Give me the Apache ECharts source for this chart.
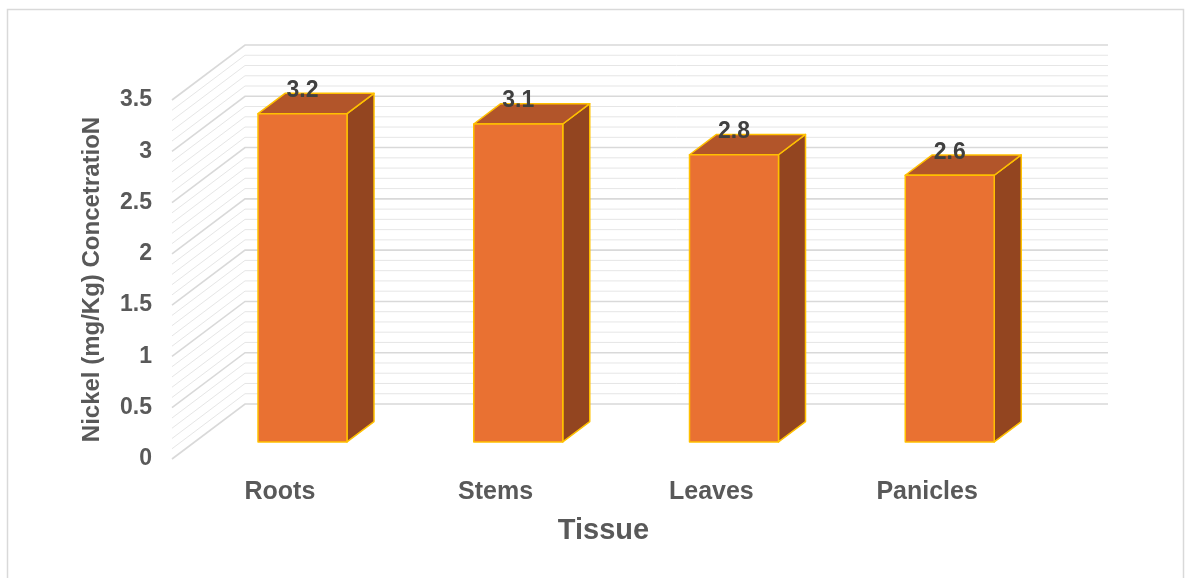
<!DOCTYPE html>
<html>
<head>
<meta charset="utf-8">
<title>Nickel concentration by tissue</title>
<script src="https://cdn.jsdelivr.net/npm/echarts@6/dist/echarts.min.js"></script>
<style>
  html, body { margin: 0; padding: 0; background: #ffffff; }
  #chart { width: 1189px; height: 578px; }
</style>
</head>
<body>
<div id="chart"></div>
<script>
// Tissue categories and measured nickel concentration (mg/Kg)
const tissues = ['Roots', 'Stems', 'Leaves', 'Panicles'];
const nickel = [3.2, 3.1, 2.8, 2.6];

// Value axis settings
const axisMin = 0;
const axisMax = 3.5;
const majorStep = 0.5;
const minorStep = 0.1;

// Wall gridline levels (major every 0.5, minor every 0.1)
const gridLevels = [];
for (let i = 0; i <= Math.round((axisMax - axisMin) / minorStep); i++) {
  gridLevels.push(+(axisMin + i * minorStep).toFixed(2));
}

// Oblique depth vector of the 3D box (pixels for the full floor depth)
const DEPTH = [73, -55];
const FRONT = 0.31;   // depth fraction where bar front faces sit
const THICK = 0.37;   // depth fraction occupied by each bar
const BAR_WIDTH = 0.4125; // share of a category band

const FONT = '"Liberation Sans", Arial, Helvetica, sans-serif';

const chart = echarts.init(document.getElementById('chart'), null, { renderer: 'canvas' });

function renderWall(params, api) {
  const v = api.value(1);
  const cs = params.coordSys;
  const y = api.coord([0, v])[1];
  const major = Math.abs(v / majorStep - Math.round(v / majorStep)) < 1e-6;
  const x0 = cs.x;
  const x1 = cs.x + cs.width;
  return {
    type: 'polyline',
    silent: true,
    z2: major ? 2 : 1,
    shape: {
      points: [
        [x0, y],
        [x0 + DEPTH[0], y + DEPTH[1]],
        [x1 + DEPTH[0], y + DEPTH[1]]
      ]
    },
    style: {
      stroke: major ? '#d9d9d9' : '#e6e6e6',
      lineWidth: major ? 1.6 : 1,
      fill: null
    }
  };
}

function renderBar(params, api) {
  const idx = api.value(0);
  const val = api.value(1);
  const base = api.coord([idx, 0]);
  const top = api.coord([idx, val]);
  const band = api.size([1, 0])[0];
  const w = band * BAR_WIDTH;
  const ox = DEPTH[0] * FRONT, oy = DEPTH[1] * FRONT;
  const bx = DEPTH[0] * THICK, by = DEPTH[1] * THICK;
  const l = base[0] - w / 2 + ox;
  const r = base[0] + w / 2 + ox;
  const yb = base[1] + oy;
  const yt = top[1] + oy;
  const edge = { stroke: '#FFC000', lineWidth: 1.5, lineJoin: 'round' };
  return {
    type: 'group',
    children: [
      {
        type: 'polygon',
        shape: { points: [[r, yt], [r, yb], [r + bx, yb + by], [r + bx, yt + by]] },
        style: Object.assign({ fill: '#934520' }, edge)
      },
      {
        type: 'polygon',
        shape: { points: [[l, yt], [r, yt], [r + bx, yt + by], [l + bx, yt + by]] },
        style: Object.assign({ fill: '#B2552A' }, edge)
      },
      {
        type: 'rect',
        shape: { x: l, y: yt, width: r - l, height: yb - yt },
        style: Object.assign({ fill: '#E97132' }, edge)
      },
      {
        type: 'text',
        z2: 10,
        style: {
          text: String(val),
          x: (l + r) / 2,
          y: yt - 23,
          align: 'center',
          verticalAlign: 'middle',
          font: 'bold 23px ' + FONT,
          fill: '#404040'
        }
      }
    ]
  };
}

const option = {
  animation: false,
  backgroundColor: '#ffffff',
  graphic: [
    {
      type: 'rect',
      silent: true,
      shape: { x: 7.5, y: 9.5, width: 1176, height: 590 },
      style: { fill: null, stroke: '#d9d9d9', lineWidth: 1.5 }
    }
  ],
  grid: { left: 172, right: 154, top: 100, bottom: 119, containLabel: false },
  xAxis: {
    type: 'category',
    data: tissues,
    axisLine: { show: false },
    axisTick: { show: false },
    splitLine: { show: false },
    axisLabel: {
      margin: 33,
      verticalAlign: 'middle',
      color: '#595959',
      fontFamily: FONT,
      fontWeight: 'bold',
      fontSize: 25
    },
    name: 'Tissue',
    nameLocation: 'middle',
    nameGap: 72,
    nameTextStyle: {
      color: '#595959',
      fontFamily: FONT,
      fontWeight: 'bold',
      fontSize: 29,
      verticalAlign: 'middle'
    }
  },
  yAxis: {
    type: 'value',
    min: axisMin,
    max: axisMax,
    interval: majorStep,
    axisLine: { show: false },
    axisTick: { show: false },
    splitLine: { show: false },
    axisLabel: {
      margin: 20,
      color: '#595959',
      fontFamily: FONT,
      fontWeight: 'bold',
      fontSize: 23
    },
    name: 'Nickel (mg/Kg) ConcetratioN',
    nameLocation: 'middle',
    nameGap: 80,
    nameTextStyle: {
      color: '#595959',
      fontFamily: FONT,
      fontWeight: 'bold',
      fontSize: 24,
      verticalAlign: 'middle'
    }
  },
  series: [
    {
      name: 'walls',
      type: 'custom',
      silent: true,
      z: 1,
      renderItem: renderWall,
      encode: { x: 0, y: 1 },
      data: gridLevels.map(v => [0, v])
    },
    {
      name: 'Nickel',
      type: 'custom',
      z: 5,
      renderItem: renderBar,
      encode: { x: 0, y: 1 },
      data: nickel.map((v, i) => [i, v])
    }
  ]
};

chart.setOption(option);
</script>
</body>
</html>
